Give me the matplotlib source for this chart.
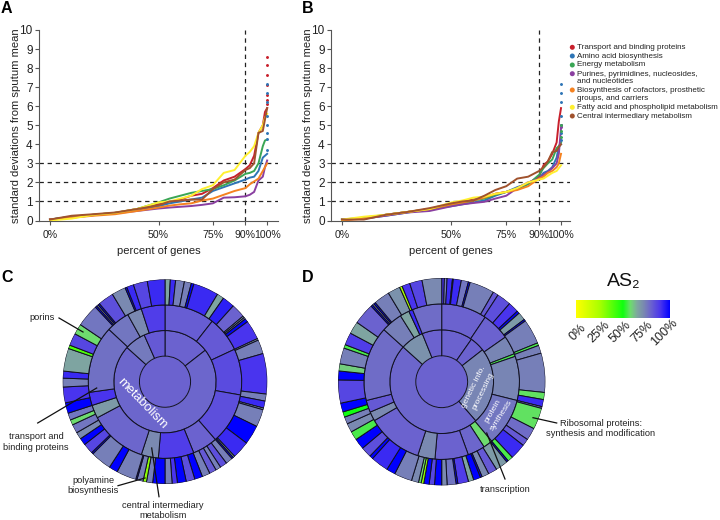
#!/usr/bin/env python3
"""Gene percentile curves (A, B) and AS2 sunbursts (C, D)."""

import numpy as np
import matplotlib
matplotlib.use("Agg")
import matplotlib.pyplot as plt
from matplotlib.colors import LinearSegmentedColormap
from matplotlib.lines import Line2D

plt.rcParams["font.family"] = ["Liberation Sans", "DejaVu Sans"]

W, H = 720, 520

# curves: percent of genes -> sd from sputum mean
pct = [0, 10, 20, 30, 40, 50, 55, 60, 65, 70, 75, 80, 85, 90, 92, 94, 96, 98, 99, 100]
names = [
    "Transport and binding proteins",
    "Amino acid biosynthesis",
    "Energy metabolism",
    "Purines, pyrimidines, nucleosides,\nand nucleotides",
    "Biosynthesis of cofactors, prosthetic\ngroups, and carriers",
    "Fatty acid and phospholipid metabolism",
    "Central intermediary metabolism",
]
colors = ["#c8202c", "#2e75b6", "#3aa655", "#8a3fa0", "#f58220", "#fff030", "#a0522d"]

a_red = [.05, .2, .3, .4, .6, .85, .95, 1.1, 1.3, 1.4, 1.7, 2.1, 2.3, 2.7, 2.9, 3.4, 4.6, 5.0, 5.7, 5.9]
a_blue = [.05, .2, .3, .4, .55, .75, .9, 1.0, 1.1, 1.2, 1.55, 1.75, 1.95, 2.15, 2.25, 2.3, 2.6, 3.3, 3.4, 3.5]
a_green = [.05, .2, .3, .4, .6, .95, 1.15, 1.3, 1.45, 1.55, 1.65, 1.85, 2.1, 2.45, 2.5, 2.6, 3.0, 3.9, 4.2, 4.25]
a_purple = [.05, .15, .28, .38, .5, .63, .68, .72, .76, .82, .9, 1.2, 1.22, 1.27, 1.35, 1.5, 2.1, 2.3, 2.8, 3.15]
a_orange = [.05, .15, .25, .33, .5, .68, .78, .85, .9, 1.05, 1.15, 1.35, 1.55, 1.7, 1.9, 2.05, 2.2, 2.6, 2.8, 3.0]
a_yellow = [.0, .1, .3, .4, .6, .95, 1.0, 1.15, 1.3, 1.65, 1.85, 2.5, 2.65, 3.4, 3.6, 3.9, 4.6, 5.0, 5.4, 5.6]
a_brown = [.05, .25, .33, .42, .6, .8, 1.0, 1.05, 1.1, 1.1, 1.65, 2.0, 2.15, 2.65, 2.75, 3.0, 4.6, 4.7, 5.3, 5.9]

b_red = [.05, .1, .3, .45, .6, .85, 1, 1.1, 1.2, 1.4, 1.5, 1.7, 1.95, 2.3, 2.9, 3.1, 3.5, 4.1, 5.2, 5.9]
b_blue = [.05, .1, .25, .42, .6, .75, .85, .95, 1.05, 1.3, 1.5, 1.75, 1.95, 2.2, 2.5, 2.6, 2.8, 3.3, 3.9, 4.0]
b_green = [.05, .15, .3, .45, .6, .8, .9, 1.05, 1.15, 1.35, 1.5, 1.65, 1.9, 2.4, 2.75, 3.0, 3.2, 3.8, 3.9, 4.1]
b_purple = [.05, .1, .25, .42, .5, .75, .85, .92, .98, 1.15, 1.3, 1.7, 2.0, 2.2, 2.4, 2.55, 2.75, 3.0, 3.5, 4.85]
b_orange = [.0, .1, .3, .45, .6, .85, .95, 1.05, 1.2, 1.4, 1.5, 1.6, 1.8, 2.2, 2.3, 2.5, 2.6, 2.8, 3.0, 3.5]
b_yellow = [.05, .2, .3, .45, .6, .95, 1.05, 1.2, 1.25, 1.4, 1.5, 1.7, 2.0, 2.15, 2.2, 2.35, 2.5, 2.6, 2.75, 2.9]
b_brown = [.05, .05, .3, .45, .65, .9, 1.0, 1.05, 1.3, 1.6, 1.8, 2.2, 2.3, 2.6, 2.8, 3.1, 3.6, 3.65, 3.85, 4.0]

# outlying genes drawn as dots above the end of the curves
a_red_tail = [6.1, 6.3, 6.6, 7.1, 7.65, 8.15, 8.57]
a_blue_tail = [3.7, 4.3, 4.6, 5.0, 5.5, 6.2, 6.7, 7.15]
b_blue_tail = [4.2, 4.6, 5.0, 5.5, 6.2, 6.7, 7.15]
b_purple_tail = [4.9, 5.0]
b_green_tail = [4.4, 4.7, 5.0]

x_ticks = [0, 50, 75, 90, 100]
x_labels = ["0%", "50%", "75%", "90%", "100%"]

# sunburst rings: edge angles clockwise from north, AS2 percent per segment
c_ring1_edges = [0, 52, 312, 336, 360]
c_ring1_vals = [80, 79, 75, 82]
c_ring2_edges = [0, 38, 65, 100, 139, 158, 185, 198, 242, 252, 262, 313, 331, 342, 360]
c_ring2_vals = [81, 82, 85, 84, 80, 88, 72, 79, 68, 90, 77, 76, 72, 88]
c_ring3_edges = [0, 3, 6, 11, 15, 16.5, 31, 35, 42, 50,
                 51, 52, 54, 65, 66, 74, 97, 101, 105, 106,
                 116, 127, 137, 138, 139, 143, 147, 150, 154, 158.5,
                 163, 168, 173, 176, 180, 187, 190.5, 192.5, 196, 196.7,
                 208, 213, 225, 226, 232, 236, 240, 245, 248, 252,
                 258, 267, 272, 276, 289, 291, 298, 304, 317, 318,
                 319, 320, 329, 337, 338, 342, 350, 360]
c_ring3_vals = [66, 92, 74, 74, 100, 92, 66, 94, 80, 70,
                74, 100, 90, 70, 74, 90, 74, 92, 70, 74,
                100, 92, 66, 100, 74, 84, 74, 82, 74, 100,
                84, 100, 90, 74, 100, 74, 30, 74, 100, 74,
                100, 74, 100, 86, 100, 72, 76, 58, 76, 100,
                90, 74, 92, 66, 40, 86, 58, 76, 100, 74,
                100, 84, 72, 100, 92, 86, 92]

d_ring1_edges = [0, 35, 52, 139, 312, 338, 360]
d_ring1_vals = [80, 80, 73, 79, 70, 80]
d_ring2_edges = [0, 34, 55, 69, 71, 104, 140, 147, 160, 185, 198, 240, 247, 256, 312, 328, 335, 338, 360]
d_ring2_vals = [80, 80, 73, 55, 73, 76, 58, 79, 80, 72, 80, 72, 82, 78, 74, 66, 92, 78]
d_ring3_edges = [0, 1.5, 3, 6, 6.5, 11, 15, 16, 30, 33,
                 41, 47, 48.5, 53, 54, 68, 69.5, 74, 96, 100,
                 104, 105, 117, 124, 128, 137, 140, 141, 148, 153,
                 157, 158, 162, 165, 171, 172, 177, 180, 184, 187,
                 190, 191.5, 193, 197, 207, 212, 222, 224, 230, 236,
                 241, 246, 250, 253, 258, 271, 276, 280, 289, 291,
                 298, 305, 317, 318, 319, 320, 329, 336, 337.5, 342, 349, 360]
d_ring3_vals = [90, 74, 92, 74, 92, 76, 100, 74, 82, 84,
                90, 100, 68, 100, 74, 55, 74, 74, 57, 92,
                78, 57, 78, 82, 92, 55, 100, 68, 82, 72,
                100, 100, 66, 88, 100, 76, 72, 100, 86, 100,
                30, 58, 72, 74, 100, 92, 100, 84, 100, 55,
                72, 74, 50, 100, 86, 100, 60, 74, 55, 88,
                66, 80, 100, 74, 100, 74, 70, 25, 90, 86, 72]

# yellow -> green -> grey -> blue scale of the AS2 key
as2_stops = [0, .25, .5, .58, .65, .72, .8, .9, 1]
as2_hex = ["#ffff00", "#aaff00", "#10ff10", "#6edc6e", "#7fa89f", "#7a8ab0", "#6b62cf", "#4a35ee", "#0000ff"]
as2_ticks = ["0%", "25%", "50%", "75%", "100%"]

as2_cmap = LinearSegmentedColormap.from_list("as2", list(zip(as2_stops, as2_hex)), N=256)


def box(left, top, right, bottom):
    """Pixel box to figure fractions."""
    return [left / W, 1 - bottom / H, (right - left) / W, (bottom - top) / H]


def fx(x):
    return x / W


def fy(y):
    return 1 - y / H


def draw_curves(ax, series, tails):
    for hline in [1, 2, 3]:
        ax.axhline(hline, color="#222222", lw=0.9, ls=(0, (3.5, 3)), zorder=1)
    ax.axvline(90, color="#222222", lw=0.9, ls=(0, (3.5, 3)), zorder=1)
    for values, color in zip(series, colors):
        ax.plot(pct, values, color=color, lw=1.4, zorder=3)
    for values, color in tails:
        ax.plot([100] * len(values), values, ls="none", marker="o", ms=1.1, color=color, zorder=3)
    ax.set_ylim(0, 10)
    ax.set_yticks(range(11))
    ax.set_xticks(x_ticks)
    ax.set_xticklabels(x_labels, fontsize=7.6, color="#222222")
    ax.tick_params(axis="y", labelsize=8.5, pad=1.5, length=3, width=0.8, color="#555555", labelcolor="#222222")
    ax.tick_params(axis="x", pad=4, length=3, width=0.8, color="#555555")
    ax.set_xlabel("percent of genes", fontsize=8, labelpad=4, color="#222222")
    ax.set_ylabel("standard deviations from sputum mean", fontsize=8.1, labelpad=-1, color="#222222")
    ax.spines[["top", "right"]].set_visible(False)
    ax.spines[["left", "bottom"]].set_color("#555555")


def draw_ring(ax, level, edges, values):
    assert len(edges) == len(values) + 1
    edges = np.radians(edges)
    ax.bar(edges[:-1], 1, width=np.diff(edges), bottom=level, align="edge",
           color=as2_cmap(np.array(values) / 100), edgecolor="#101020", linewidth=0.7)


def draw_sunburst(rect, rings):
    ax = fig.add_axes(rect, projection="polar")
    ax.set_theta_zero_location("N")
    ax.set_theta_direction(-1)
    ax.bar(0, 1, width=2 * np.pi, bottom=0, color=as2_cmap(.8), linewidth=0)
    for level, (edges, values) in enumerate(rings, start=1):
        draw_ring(ax, level, edges, values)
    ax.set_ylim(0, 4)
    ax.axis("off")
    return ax


def label(x, y, text, **kw):
    kw.setdefault("fontsize", 6.7)
    kw.setdefault("color", "#222222")
    kw.setdefault("ha", "center")
    kw.setdefault("va", "center")
    fig.text(fx(x), fy(y), text, **kw)


def leader(x0, y0, x1, y1):
    fig.add_artist(Line2D([fx(x0), fx(x1)], [fy(y0), fy(y1)], color="#111111", lw=0.9, zorder=10))


fig = plt.figure(figsize=(W / 100, H / 100), dpi=100)

ax_a = fig.add_axes(box(39, 30, 278, 220.5))
ax_a.set_xlim(-5.07, 105)
draw_curves(ax_a, [a_red, a_blue, a_green, a_purple, a_orange, a_yellow, a_brown],
            [(a_red_tail, colors[0]), (a_blue_tail, colors[1])])

ax_b = fig.add_axes(box(331, 30, 570, 220.5))
ax_b.set_xlim(-5.0, 104.1)
draw_curves(ax_b, [b_red, b_blue, b_green, b_purple, b_orange, b_yellow, b_brown],
            [(b_blue_tail, colors[1]), (b_purple_tail, colors[3]), (b_green_tail, colors[2])])

# legend of the curves
leg_text_y = [47.3, 56, 65, 78, 94.3, 107.3, 116]
ax_key = fig.add_axes([0, 0, 1, 1], facecolor="none")
ax_key.set_xlim(0, W)
ax_key.set_ylim(H, 0)
ax_key.axis("off")
ax_key.scatter([572.3] * 7, [47.3, 56, 65, 73.7, 90, 107.3, 116], s=13, c=colors, linewidths=0)
for name, y in zip(names, leg_text_y):
    ax_key.text(576.7, y, name, fontsize=5.8, va="center", ha="left", color="#222222", linespacing=1.12)

sun_c = draw_sunburst(box(165 - 102.3, 381.7 - 102.3, 165 + 102.3, 381.7 + 102.3),
                      [(c_ring1_edges, c_ring1_vals), (c_ring2_edges, c_ring2_vals), (c_ring3_edges, c_ring3_vals)])
sun_d = draw_sunburst(box(441.7 - 103.7, 381.7 - 103.7, 441.7 + 103.7, 381.7 + 103.7),
                      [(d_ring1_edges, d_ring1_vals), (d_ring2_edges, d_ring2_vals), (d_ring3_edges, d_ring3_vals)])

# AS2 key
ax_cb = fig.add_axes(box(576, 300, 670, 318))
ax_cb.imshow(np.linspace(0, 1, 256)[None, :], cmap=as2_cmap, aspect="auto", vmin=0, vmax=1)
ax_cb.axis("off")
label(624, 282, "AS₂", fontsize=14, color="#111111")
for text, x in zip(as2_ticks, [578, 599, 620, 642, 664]):
    label(x, 332, text, fontsize=9, rotation=45)

# panel letters
for letter, x, y in [("A", 1, 8.5), ("B", 302, 8.5), ("C", 1, 278), ("D", 302, 278)]:
    label(x, y, letter, fontsize=11.5, fontweight="bold", color="black", ha="left")

# white labels on the sunbursts
label(142, 404, "metabolism", fontsize=9.3, color="white", rotation=-46)
label(473.7, 386.7, "genetic info.", fontsize=6, color="white", rotation=64)
label(483, 391, "processing", fontsize=6, color="white", rotation=64)
label(492.7, 410.7, "protein", fontsize=6, color="white", rotation=60)
label(501, 415, "synthesis", fontsize=6, color="white", rotation=57)

# callouts
label(42, 318, "porins")
leader(59, 318, 83, 332)
label(36, 442, "transport and\nbinding proteins", linespacing=1.2)
leader(37.7, 423, 96.7, 388)
label(93, 485.5, "polyamine\nbiosynthesis", linespacing=1.2)
leader(118, 485.7, 145, 478)
label(163, 510.5, "central intermediary\nmetabolism", linespacing=1.2)
leader(159, 496.7, 151.7, 448)
label(601, 428.5, "Ribosomal proteins:\nsynthesis and modification", linespacing=1.2)
leader(556.7, 423, 533, 417.7)
label(505, 490, "transcription")
leader(505, 479, 486.7, 433)

fig.savefig("out.png", dpi=100)
